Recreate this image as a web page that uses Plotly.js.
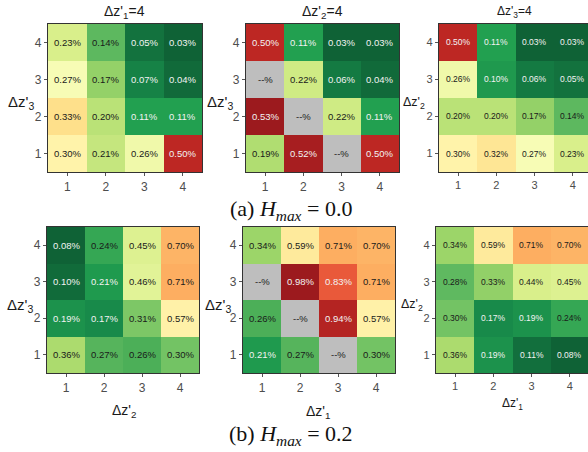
<!DOCTYPE html>
<html><head><meta charset="utf-8">
<script src="https://cdn.plot.ly/plotly-3.0.1.min.js"></script>
<style>html,body{margin:0;padding:0;background:#fff}#c{width:588px;height:452px}</style>
</head><body><div id="c"></div>
<script>
// Tick categories (Δz' levels)
const levels = [1, 2, 3, 4];
// Each matrix: rows are y = 1..4 (bottom to top), columns x = 1..4; null = no value ("--%")
const topA = [ // Δz'1 = 4, y: Δz'3
  [0.30, 0.21, 0.26, 0.50],
  [0.33, 0.20, 0.11, 0.11],
  [0.27, 0.17, 0.07, 0.04],
  [0.23, 0.14, 0.05, 0.03]
];
const topB = [ // Δz'2 = 4, y: Δz'3
  [0.19, 0.52, null, 0.50],
  [0.53, null, 0.22, 0.11],
  [null, 0.22, 0.06, 0.04],
  [0.50, 0.11, 0.03, 0.03]
];
const topC = [ // Δz'3 = 4, y: Δz'2
  [0.30, 0.32, 0.27, 0.23],
  [0.20, 0.20, 0.17, 0.14],
  [0.26, 0.10, 0.06, 0.05],
  [0.50, 0.11, 0.03, 0.03]
];
const botA = [ // x: Δz'2, y: Δz'3
  [0.36, 0.27, 0.26, 0.30],
  [0.19, 0.17, 0.31, 0.57],
  [0.10, 0.21, 0.46, 0.71],
  [0.08, 0.24, 0.45, 0.70]
];
const botB = [ // x: Δz'1, y: Δz'3
  [0.21, 0.27, null, 0.30],
  [0.26, null, 0.94, 0.57],
  [null, 0.98, 0.83, 0.71],
  [0.34, 0.59, 0.71, 0.70]
];
const botC = [ // x: Δz'1, y: Δz'2
  [0.36, 0.19, 0.11, 0.08],
  [0.30, 0.17, 0.19, 0.24],
  [0.28, 0.33, 0.44, 0.45],
  [0.34, 0.59, 0.71, 0.70]
];
const titlesTop = ["Δz'<sub>1</sub>=4", "Δz'<sub>2</sub>=4", "Δz'<sub>3</sub>=4"];
const yTitles = ["Δz'<sub>3</sub>", "Δz'<sub>3</sub>", "Δz'<sub>2</sub>", "Δz'<sub>3</sub>", "Δz'<sub>3</sub>", "Δz'<sub>2</sub>"];
const xTitlesBot = ["Δz'<sub>2</sub>", "Δz'<sub>1</sub>", "Δz'<sub>1</sub>"];
const captions = ["(a) <i>H</i><sub><i>max</i></sub> = 0.0", "(b) <i>H</i><sub><i>max</i></sub> = 0.2"];
const rowRange = [[0.03, 0.53], [0.08, 0.98]];

const W = 588, H = 452;
const px = v => v / W, py = v => 1 - v / H;
const cs = [[0,'#0f6236'],[0.1,'#188a4a'],[0.16,'#22a050'],[0.2,'#4caf58'],[0.23,'#66bd63'],[0.3,'#a6d96a'],
            [0.4,'#d9ef8b'],[0.5,'#ffffbf'],[0.6,'#fee08b'],[0.7,'#fdae61'],[0.8,'#f46d43'],[0.9,'#d33027'],[1,'#9c1a1e']];

const mats = [topA, topB, topC, botA, botB, botC];
// panel pixel boxes: [left, right, top, bottom], right may exceed width (clipped)
const boxes = [[48,202,24,172],[246,399,24,172],[439,592,24,172],
               [47,199,227,373],[243,395,227,373],[436,589,227,373]];
const data = [], annotations = [];
const layout = {width: W, height: H, margin:{l:0,r:0,t:0,b:0}, paper_bgcolor:'#fff', plot_bgcolor:'#bebebe',
  showlegend:false, annotations};
function note(x, y, text, font) {
  annotations.push({xref:'paper', yref:'paper', x: px(x), y: py(y), xanchor:'center', yanchor:'middle',
    text, showarrow:false, font});
}
mats.forEach((m, i) => {
  const k = i + 1, row = i < 3 ? 0 : 1, small = (i % 3 === 2);
  const sfx = k === 1 ? '' : String(k);
  const [zmin, zmax] = rowRange[row];
  const [l, r, t, b] = boxes[i];
  const cell = (r - l) / 4;
  const rClip = Math.min(r, W);
  const xr = [0.5, 0.5 + (rClip - l) / cell];
  data.push({type:'heatmap', x: levels, y: levels, z: m, zmin, zmax, colorscale: cs, showscale:false,
    xaxis: 'x' + sfx, yaxis: 'y' + sfx, hoverinfo:'skip', xgap:0, ygap:0});
  const ax = {showline:true, linecolor:'#333', linewidth:1.2, mirror:true, ticks:'outside', ticklen:3,
    tickcolor:'#555', tickwidth:1, showgrid:false, zeroline:false, tickvals: levels,
    tickfont:{family:'Liberation Sans, Arial', size: small ? 11 : 12, color:'#4d4d4d'}, fixedrange:true};
  layout['xaxis' + sfx] = Object.assign({}, ax, {domain:[px(l), px(rClip)], range: xr, anchor: 'y' + sfx});
  layout['yaxis' + sfx] = Object.assign({}, ax, {domain:[py(b), py(t)], range:[0.5, 4.5], anchor: 'x' + sfx});
  // cell labels
  m.forEach((rowv, yi) => rowv.forEach((v, xi) => {
    let txt = '--%', col = '#1a1a1a';
    if (v !== null) {
      txt = v.toFixed(2) + '%';
      const tn = (v - zmin) / (zmax - zmin);
      if (tn < 0.17 || tn > 0.8) col = '#f2f2f2';
    }
    annotations.push({xref: 'x' + sfx, yref: 'y' + sfx, x: levels[xi], y: levels[yi],
      xanchor:'center', yanchor:'middle',
      text: txt, showarrow:false, font:{family:'Liberation Sans, Arial', size: small ? 8.5 : 9.5, color: col}});
  }));
  // y title
  const yx = [21, 220, 414, 20, 218, 412][i];
  const yy = [103, 103, 103, 305, 305, 305][i];
  note(yx, yy, yTitles[i], {family:'Liberation Sans, Arial', size: small ? 12.5 : 15, color:'#1a1a1a'});
});
// top titles
[124, 322, 514].forEach((x, j) => note(x, 12, titlesTop[j],
  {family:'Liberation Sans, Arial', size: j === 2 ? 12 : 14, color:'#1a1a1a'}));
// bottom x titles
[[124, 411], [318, 412], [512, 404]].forEach(([x, y], j) => note(x, y, xTitlesBot[j],
  {family:'Liberation Sans, Arial', size: j === 2 ? 12 : 14, color:'#1a1a1a'}));
// captions
[[291, 210], [291, 435]].forEach(([x, y], j) => note(x, y, captions[j],
  {family:'Liberation Serif, Times New Roman', size: 22, color:'#111'}));
Plotly.newPlot('c', data, layout, {staticPlot:true, displayModeBar:false});
</script></body></html>
